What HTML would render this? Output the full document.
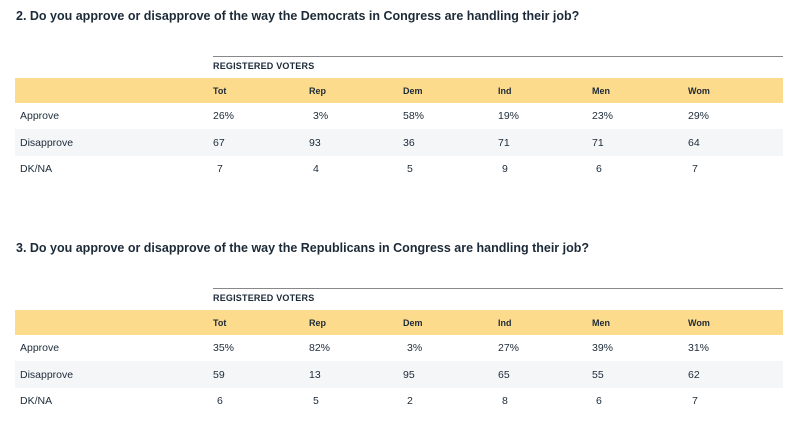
<!DOCTYPE html>
<html><head><meta charset="utf-8"><style>
body{margin:0;width:800px;height:424px;background:#fff;font-family:"Liberation Sans",Arial,sans-serif;color:#1c2a38;position:relative;overflow:hidden}
.a{position:absolute;white-space:nowrap}
.t{font-weight:bold;font-size:12.5px;left:16px}
.line{position:absolute;left:213px;width:570px;height:1px;background:#888}
.rv{font-weight:bold;font-size:9px;left:213px;letter-spacing:.2px}
.band{position:absolute;left:15px;width:768px;background:#fddb8c}
.gray{position:absolute;left:15px;width:768px;background:#f4f6f8}
.h{font-weight:bold;font-size:9px}
.c{font-size:10.5px}
</style></head><body>
<div id="root"></div>
<script>
function table(o,title,data){
 let h='';
 h+=`<div class="a t" style="top:${o+9}px">${title}</div>`;
 h+=`<div class="line" style="top:${o+56}px"></div>`;
 h+=`<div class="a rv" style="top:${o+61}px">REGISTERED VOTERS</div>`;
 h+=`<div class="band" style="top:${o+78}px;height:25px"></div>`;
 h+=`<div class="gray" style="top:${o+129}px;height:27px"></div>`;
 const xs=[213,309,403,498,592,688];
 const hd=['Tot','Rep','Dem','Ind','Men','Wom'];
 hd.forEach((t,i)=>h+=`<div class="a h" style="left:${xs[i]}px;top:${o+86}px">${t}</div>`);
 const labs=['Approve','Disapprove','DK/NA'];
 const ys=[o+110,o+137,o+163];
 labs.forEach((l,r)=>{
  h+=`<div class="a c" style="left:20px;top:${ys[r]}px">${l}</div>`;
  data[r].forEach((v,i)=>{
   const single=v.replace('%','').length==1;
   h+=`<div class="a c" style="left:${xs[i]+(single?4:0)}px;top:${ys[r]}px">${v}</div>`;
  });
 });
 return h;
}
document.getElementById('root').innerHTML=
 table(0,'2. Do you approve or disapprove of the way the Democrats in Congress are handling their job?',
  [['26%','3%','58%','19%','23%','29%'],['67','93','36','71','71','64'],['7','4','5','9','6','7']])+
 table(232,'3. Do you approve or disapprove of the way the Republicans in Congress are handling their job?',
  [['35%','82%','3%','27%','39%','31%'],['59','13','95','65','55','62'],['6','5','2','8','6','7']]);
</script>
</body></html>
